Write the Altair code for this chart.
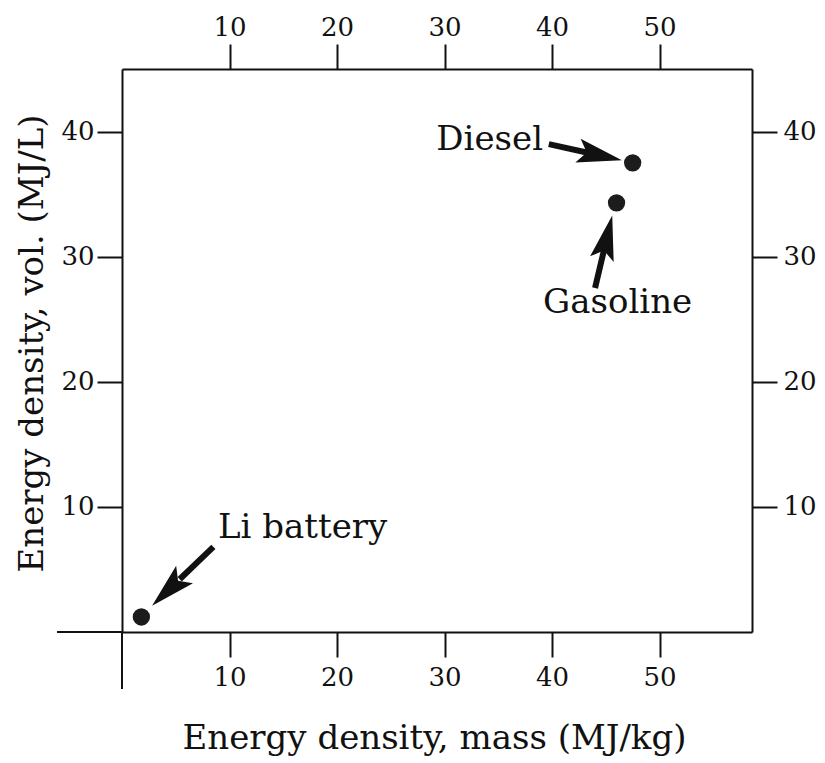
import math
import altair as alt
import pandas as pd

# ---- data ----
fuels = ["Li battery", "Gasoline", "Diesel"]
mass_density = [1.8, 46.0, 47.5]      # MJ/kg
vol_density = [1.2, 34.3, 37.5]       # MJ/L

label_x = [16.8, 46.1, 34.2]
label_y = [7.5, 25.5, 38.5]

arrow_x_start = [8.5, 44.0, 39.7]
arrow_y_start = [6.8, 27.5, 39.0]
arrow_x_tip = [2.8, 45.6, 46.5]
arrow_y_tip = [2.1, 33.3, 37.7]

x_ticks = [10, 20, 30, 40, 50]
y_ticks = [10, 20, 30, 40]

X_MAX = 58.6
Y_MAX = 45
W, H = 630, 563
FONT = "DejaVu Serif"
INK = "#111111"

kx = W / X_MAX
ky = H / Y_MAX

pts = pd.DataFrame({"fuel": fuels, "mass": mass_density, "vol": vol_density})
labels = pd.DataFrame({"fuel": fuels, "lx": label_x, "ly": label_y})

rows = []
for f, xs, ys, xt, yt in zip(fuels, arrow_x_start, arrow_y_start, arrow_x_tip, arrow_y_tip):
    dx = (xt - xs) * kx
    dy = (yt - ys) * ky
    ang = math.degrees(math.atan2(dx, dy)) % 360
    rows.append({
        "fuel": f, "xs": xs, "ys": ys, "xt": xt, "yt": yt,
        "xe": xs + 0.55 * (xt - xs), "ye": ys + 0.55 * (yt - ys),
        "angle": ang,
    })
arrows = pd.DataFrame(rows)

ext = pd.DataFrame({"x0": [-65 / kx, 0.0], "x1": [0.0, 0.0],
                    "y0": [0.0, -57 / ky], "y1": [0.0, 0.0]})

xs_scale = alt.Scale(domain=[0, X_MAX], nice=False, zero=False)
ys_scale = alt.Scale(domain=[0, Y_MAX], nice=False, zero=False)

x_bottom = alt.X("mass:Q", scale=xs_scale,
                 axis=alt.Axis(orient="bottom", values=x_ticks, title="Energy density, mass (MJ/kg)",
                               labelPadding=7, titleBaseline="alphabetic", titleY=116,
                               titleX=W / 2 - 3))
y_left = alt.Y("vol:Q", scale=ys_scale,
               axis=alt.Axis(orient="left", values=y_ticks, title="Energy density, vol. (MJ/L)",
                             labelPadding=3, titleBaseline="alphabetic", titleX=-80,
                             titleY=274))

points = alt.Chart(pts).mark_circle(size=300, color="#1c1c1c", opacity=1).encode(
    x=x_bottom, y=y_left)

axes2 = alt.Chart(pts).mark_point(opacity=0).encode(
    x=alt.X("mass:Q", scale=xs_scale,
            axis=alt.Axis(orient="top", values=x_ticks, title=None, labelPadding=4)),
    y=alt.Y("vol:Q", scale=ys_scale,
            axis=alt.Axis(orient="right", values=y_ticks, title=None, labelPadding=6)),
)

shafts = alt.Chart(arrows).mark_rule(strokeWidth=6, color=INK).encode(
    x=alt.X("xs:Q", scale=xs_scale, axis=None), x2="xe:Q",
    y=alt.Y("ys:Q", scale=ys_scale, axis=None), y2="ye:Q")

heads = alt.Chart(arrows).mark_point(
    shape="M0,0L-0.27,1L0,0.8L0.27,1Z", filled=True, opacity=1, color=INK, size=8100, strokeWidth=0
).encode(
    x=alt.X("xt:Q", scale=xs_scale, axis=None),
    y=alt.Y("yt:Q", scale=ys_scale, axis=None),
    angle=alt.Angle("angle:Q", scale=None),
)

texts = alt.Chart(labels).mark_text(
    font=FONT, fontSize=34, color=INK, align="center", baseline="alphabetic"
).encode(
    x=alt.X("lx:Q", scale=xs_scale, axis=None),
    y=alt.Y("ly:Q", scale=ys_scale, axis=None),
    text="fuel:N",
)

extension = alt.Chart(ext).mark_rule(strokeWidth=2, color=INK).encode(
    x=alt.X("x0:Q", scale=xs_scale, axis=None), x2="x1:Q",
    y=alt.Y("y0:Q", scale=ys_scale, axis=None), y2="y1:Q")

chart = alt.layer(points, axes2, shafts, heads, texts, extension).resolve_axis(
    x="independent", y="independent"
).properties(
    width=W, height=H,
    autosize=alt.AutoSizeParams(type="none"),
    padding={"left": 122, "top": 69, "right": 73, "bottom": 131},
    background="white",
).configure_view(stroke=None).configure_axis(
    grid=False,
    domainColor=INK, domainWidth=2,
    tickColor=INK, tickWidth=2, tickSize=25,
    labelFont=FONT, labelFontSize=26, labelColor=INK,
    titleFont=FONT, titleFontSize=34, titleFontWeight="normal", titleColor=INK,
)

chart.save("out.html", embed_options={"renderer": "svg", "actions": False})
